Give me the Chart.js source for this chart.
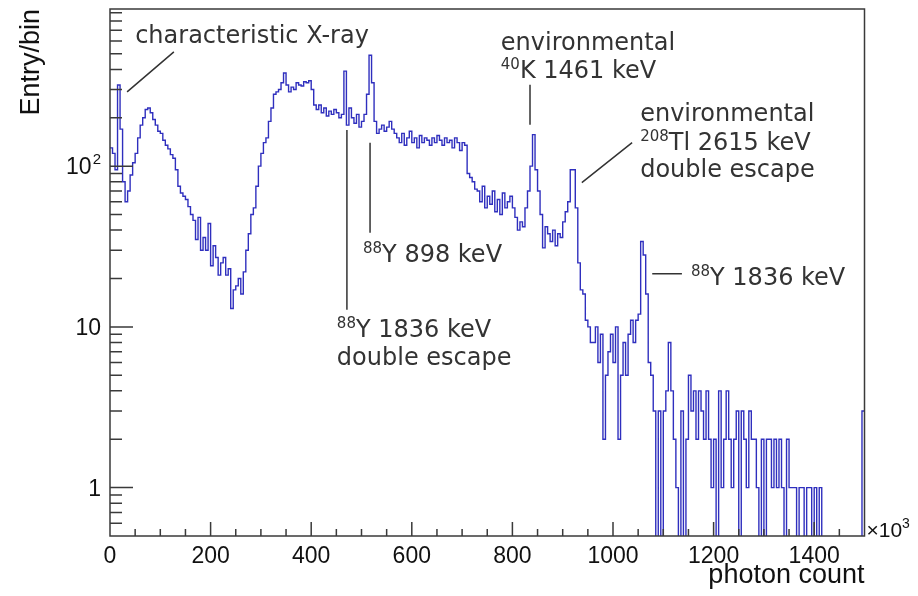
<!DOCTYPE html>
<html>
<head>
<meta charset="utf-8">
<script src="https://cdn.jsdelivr.net/npm/chart.js@4.4.1/dist/chart.umd.min.js"></script>
<style>
  html, body { margin: 0; padding: 0; background: #fff; }
  #wrap { width: 918px; height: 596px; }
</style>
</head>
<body>
<div id="wrap"><canvas id="spectrum" width="918" height="596"></canvas></div>
<script>
// histogram: 300 bins of 5 (x10^3 photons) from 0 to 1500
const binWidth = 5;
const counts = [
  130, 120, 95, 320, 170, 80, 60, 70, 88, 105,
  120, 150, 180, 200, 225, 230, 215, 195, 180, 165,
  160, 145, 135, 128, 118, 112, 95, 75, 68, 65,
  62, 56, 50, 46, 35, 48, 30, 36, 30, 44,
  24, 32, 27, 21, 25, 27, 21, 23, 13, 17,
  18, 20, 16, 22, 30, 38, 50, 55, 75, 100,
  120, 140, 150, 190, 230, 280, 290, 300, 330, 380,
  320, 290, 310, 300, 330, 320, 315, 335, 330, 340,
  300, 240, 225, 240, 215, 230, 205, 220, 210, 225,
  215, 200, 210, 390, 180, 230, 200, 185, 210, 175,
  190, 210, 280, 490, 330, 190, 160, 170, 180, 165,
  175, 190, 170, 160, 150, 140, 160, 135, 150, 165,
  140, 150, 130, 155, 140, 150, 145, 135, 150, 140,
  155, 145, 135, 150, 140, 145, 130, 150, 140, 125,
  140, 135, 90, 85, 80, 72, 70, 60, 75, 55,
  65, 58, 70, 52, 62, 50, 68, 55, 60, 65,
  55, 48, 40, 45, 42, 55, 70, 100, 157, 95,
  70, 50, 31, 42, 38, 34, 40, 32, 38, 36,
  45, 52, 60, 95, 95, 55, 25, 17, 16, 11,
  10, 8, 8, 10, 6, 9, 2, 5, 7, 9,
  6, 10, 2, 5, 8, 5, 9, 11, 8, 11,
  12, 34, 28, 16, 6, 5, 3, 0, 3, 0,
  3, 4, 8, 4, 2, 1, 0, 3, 0, 2,
  5, 3, 4, 2, 4, 3, 2, 4, 2, 1,
  2, 0, 4, 1, 2, 4, 2, 1, 2, 3,
  0, 3, 2, 1, 3, 2, 2, 1, 0, 2,
  0, 2, 2, 1, 2, 1, 2, 1, 0, 2,
  1, 1, 1, 0, 1, 1, 0, 1, 1, 0,
  1, 0, 1, 0, 0, 0, 0, 0, 0, 0,
  0, 0, 0, 0, 0, 0, 0, 0, 0, 3
];
const xTickValues = [0, 200, 400, 600, 800, 1000, 1200, 1400];
const yTickValues = [1, 10, 100];
const yTickLabels = [['1'], ['10'], ['10', '2']]; // [base, exponent]
const xRange = [0, 1500];
const yRange = [0.5, 950];

// peak labels, positions in data units (x = photon count, y = entries)
const notes = [
  { x: 50, y: 585, text: [['characteristic X-ray']] },
  { x: 777, y: 529, text: [['environmental']] },
  { x: 777, y: 355, text: [['40', 'sup'], ['K 1461 keV']] },
  { x: 1054, y: 190, text: [['environmental']] },
  { x: 1054, y: 126, text: [['208', 'sup'], ['Tl 2615 keV']] },
  { x: 1054, y: 86, text: [['double escape']] },
  { x: 503, y: 25.5, text: [['88', 'sup'], ['Y 898 keV']] },
  { x: 451, y: 8.7, text: [['88', 'sup'], ['Y 1836 keV']] },
  { x: 451, y: 5.8, text: [['double escape']] },
  { x: 1155, y: 18.2, text: [['88', 'sup'], ['Y 1836 keV']] }
];
const pointers = [
  [34, 290, 127, 514],
  [835, 321, 835, 181],
  [938, 79, 1038, 140],
  [517, 140, 517, 38.5],
  [471, 168, 471, 12.8],
  [1078, 21.4, 1137, 21.4]
];

// zero bins drop below the frame, like ROOT does on a log axis
const histPoints = counts.map((c, i) => ({ x: i * binWidth, y: c > 0 ? c : 0.05 }));
histPoints.push({ x: counts.length * binWidth, y: counts[counts.length - 1] });

const frameColor = '#3a3a3a';
const axisFont = '"Liberation Sans", Arial, sans-serif';
const noteFont = '"DejaVu Sans", sans-serif';

const frameAndNotes = {
  id: 'frameAndNotes',
  afterDraw(chart) {
    const ctx = chart.ctx;
    const a = chart.chartArea;
    const xs = chart.scales.x, ys = chart.scales.y;
    ctx.save();
    ctx.strokeStyle = frameColor;
    ctx.lineWidth = 1.5;
    ctx.strokeRect(a.left, a.top, a.right - a.left, a.bottom - a.top);

    // x ticks: major every 200, minor every 50
    ctx.beginPath();
    for (let v = xRange[0] + 50; v < xRange[1]; v += 50) {
      const px = xs.getPixelForValue(v);
      const len = v % 200 === 0 ? 14 : 7;
      ctx.moveTo(px, a.bottom);
      ctx.lineTo(px, a.bottom - len);
    }
    // y ticks: decades major, 2..9 minor
    [0.1, 1, 10, 100].forEach(d => {
      for (let m = 1; m <= 9; m++) {
        const v = m * d;
        if (v <= yRange[0] || v >= yRange[1]) continue;
        const py = ys.getPixelForValue(v);
        const len = m === 1 ? 23 : 12;
        ctx.moveTo(a.left, py);
        ctx.lineTo(a.left + len, py);
      }
    });
    ctx.stroke();

    // y tick labels with exponent
    ctx.fillStyle = '#111';
    ctx.textBaseline = 'middle';
    yTickValues.forEach((v, i) => {
      const py = ys.getPixelForValue(v) + 2;
      const lab = yTickLabels[i];
      let right = a.left - 9;
      ctx.textAlign = 'right';
      if (lab[1]) {
        ctx.font = '15px ' + axisFont;
        ctx.fillText(lab[1], right, py - 8);
        right -= ctx.measureText(lab[1]).width + 1;
      }
      ctx.font = '23px ' + axisFont;
      ctx.fillText(lab[0], right, py);
    });

    // axis titles
    ctx.font = '27px ' + axisFont;
    ctx.textAlign = 'right';
    ctx.textBaseline = 'alphabetic';
    ctx.fillText('photon count', a.right, 583);
    ctx.save();
    ctx.translate(39, a.top);
    ctx.rotate(-Math.PI / 2);
    ctx.fillText('Entry/bin', 0, 0);
    ctx.restore();

    ctx.textAlign = 'left';
    ctx.font = '21px ' + axisFont;
    ctx.fillText('×10', a.right + 2, 537);
    const w = ctx.measureText('×10').width;
    ctx.font = '14px ' + axisFont;
    ctx.fillText('3', a.right + 2 + w, 528);

    // annotations
    ctx.fillStyle = '#333';
    ctx.strokeStyle = '#333';
    ctx.lineWidth = 1.5;
    ctx.beginPath();
    pointers.forEach(p => {
      ctx.moveTo(xs.getPixelForValue(p[0]), ys.getPixelForValue(p[1]));
      ctx.lineTo(xs.getPixelForValue(p[2]), ys.getPixelForValue(p[3]));
    });
    ctx.stroke();

    notes.forEach(n => {
      let cx = xs.getPixelForValue(n.x);
      const cy = ys.getPixelForValue(n.y);
      n.text.forEach(seg => {
        const sup = seg[1] === 'sup';
        ctx.font = (sup ? '15px ' : '24px ') + noteFont;
        ctx.fillText(seg[0], cx, sup ? cy - 9 : cy);
        cx += ctx.measureText(seg[0]).width;
      });
    });
    ctx.restore();
  }
};

new Chart(document.getElementById('spectrum'), {
  type: 'line',
  data: {
    datasets: [{
      data: histPoints,
      stepped: 'before',
      borderColor: '#2f2fbe',
      borderWidth: 1.4,
      pointRadius: 0,
      fill: false
    }]
  },
  options: {
    responsive: false,
    animation: false,
    layout: { padding: { left: 0, right: 53.5, top: 9, bottom: 0 } },
    plugins: { legend: { display: false }, tooltip: { enabled: false } },
    scales: {
      x: {
        type: 'linear',
        min: xRange[0],
        max: xRange[1],
        grid: { display: false, drawTicks: false },
        border: { display: false },
        ticks: {
          autoSkip: false,
          maxRotation: 0,
          padding: 7,
          color: '#111',
          font: { family: axisFont, size: 23 },
          callback: v => String(v)
        },
        afterBuildTicks: s => { s.ticks = xTickValues.map(v => ({ value: v })); },
        afterFit: s => { s.height = 60; }
      },
      y: {
        type: 'logarithmic',
        min: yRange[0],
        max: yRange[1],
        grid: { display: false, drawTicks: false },
        border: { display: false },
        ticks: { display: false },
        afterBuildTicks: s => { s.ticks = yTickValues.map(v => ({ value: v })); },
        afterFit: s => { s.width = 110; }
      }
    }
  },
  plugins: [frameAndNotes]
});
</script>
</body>
</html>
